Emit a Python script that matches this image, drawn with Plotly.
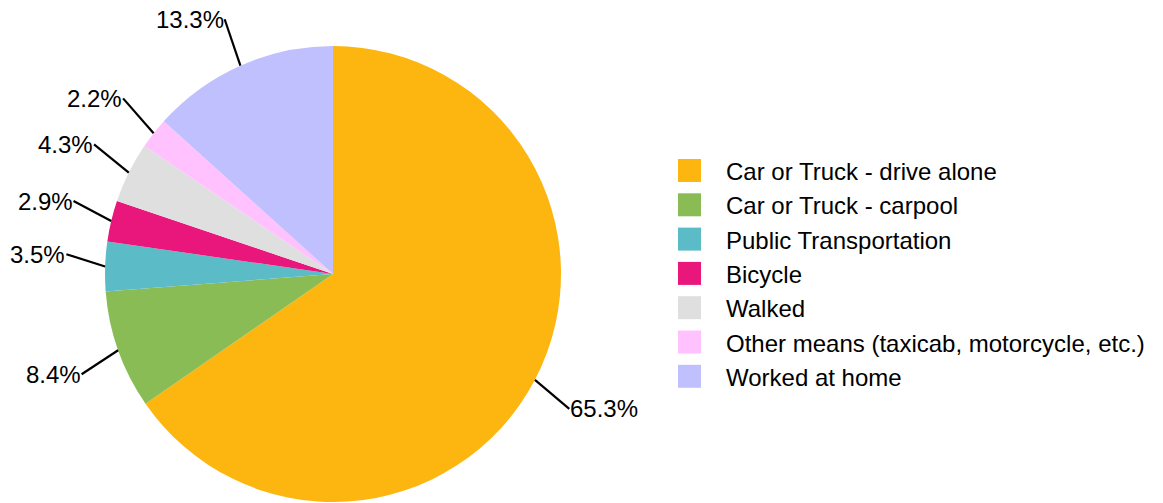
import math
import plotly.graph_objects as go

# ---- data ----
categories = [
    "Car or Truck - drive alone",
    "Car or Truck - carpool",
    "Public Transportation",
    "Bicycle",
    "Walked",
    "Other means (taxicab, motorcycle, etc.)",
    "Worked at home",
]
shares = [65.3, 8.4, 3.5, 2.9, 4.3, 2.2, 13.3]
colors = ["#FDB50F", "#89BC54", "#5BBBC7", "#E9177B", "#DFDFDF", "#FFC2FF", "#C0C0FF"]

# ---- layout geometry (screen pixels) ----
W, H = 1163, 503
OFF = 8  # page body margin
CX, CY, R = 333, 274, 228
FONT = "Liberation Sans, Arial, sans-serif"
FS = 24


def px(x):
    return (x - OFF) / W


def py(y):
    return 1 - (y - OFF) / H


fig = go.Figure(
    go.Pie(
        labels=categories,
        values=shares,
        marker=dict(colors=colors, line=dict(width=0)),
        sort=False,
        direction="clockwise",
        rotation=0,
        textinfo="none",
        hoverinfo="label+percent",
        showlegend=False,
        domain=dict(x=[px(CX - R), px(CX + R)], y=[py(CY + R), py(CY - R)]),
    )
)

shapes = []
annotations = []

# leader lines and outside labels
total = sum(shares)
cum = 0.0
for v in shares:
    mid = (cum + v / 2) / total * 2 * math.pi
    cum += v
    dx, dy = math.sin(mid), -math.cos(mid)
    x0, y0 = CX + R * dx, CY + R * dy
    x1 = CX + 1.17 * R * dx
    y1 = CY + 1.17 * R * dy + (11 if dy > 0 else -11)
    shapes.append(dict(type="line", xref="paper", yref="paper",
                       x0=px(x0), y0=py(y0), x1=px(x1), y1=py(y1),
                       line=dict(color="black", width=2.2)))
    annotations.append(dict(xref="paper", yref="paper", x=px(x1), y=py(y1),
                            text=f"{v:.1f}%", showarrow=False,
                            xanchor="left" if dx > 0 else "right", yanchor="middle",
                            font=dict(family=FONT, size=FS, color="black"),
                            borderpad=0))

# custom legend
LX, LTX, LY0, LDY, SQ = 678, 725, 170.5, 34.3, 23
for i, (lab, col) in enumerate(zip(categories, colors)):
    yc = LY0 + i * LDY
    shapes.append(dict(type="rect", xref="paper", yref="paper",
                       x0=px(LX), x1=px(LX + SQ), y0=py(yc - SQ / 2), y1=py(yc + SQ / 2),
                       fillcolor=col, line=dict(width=0)))
    annotations.append(dict(xref="paper", yref="paper", x=px(LTX), y=py(yc + 1),
                            text=lab, showarrow=False, xanchor="left", yanchor="middle",
                            font=dict(family=FONT, size=FS, color="black"), borderpad=0))

fig.update_layout(
    width=W, height=H,
    margin=dict(l=0, r=0, t=0, b=0),
    paper_bgcolor="white",
    plot_bgcolor="white",
    shapes=shapes,
    annotations=annotations,
    showlegend=False,
)

fig.write_html("out.html")
